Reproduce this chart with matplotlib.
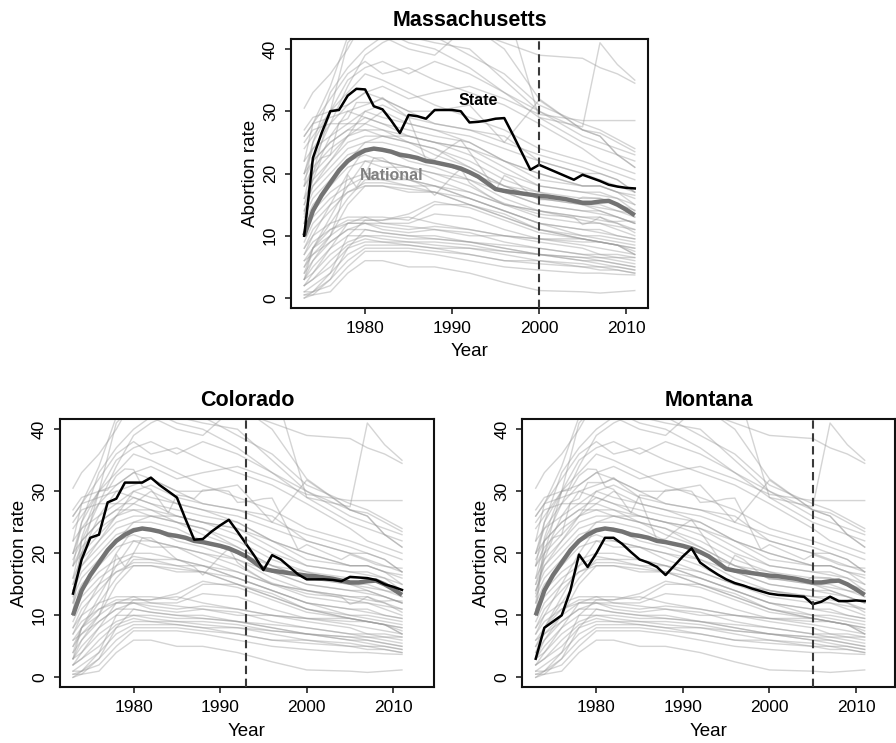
import matplotlib
matplotlib.use("Agg")
import matplotlib.pyplot as plt

plt.rcParams['font.family'] = ['Liberation Sans', 'DejaVu Sans']

# ---------------- data ----------------
years = list(range(1973, 2012))

national = [10, 14, 16.5, 18.5, 20.5, 22, 23, 23.7, 24, 23.8, 23.5, 23, 22.8, 22.5,
            22, 21.8, 21.5, 21.2, 20.8, 20.2, 19.5, 18.5, 17.5, 17.2, 17, 16.8, 16.6,
            16.4, 16.3, 16.1, 15.9, 15.6, 15.3, 15.3, 15.5, 15.6, 15, 14.2, 13.3]

massachusetts = [10, 22.5, 26.5, 30, 30.2, 32.5, 33.6, 33.5, 30.8, 30.3, 28.5, 26.5, 29.4,
                 29.2, 28.8, 30.2, 30.2, 30.2, 30, 28.2, 28.3, 28.5, 28.8, 28.9, 26.2, 23.4,
                 20.6, 21.4, 20.8, 20.2, 19.6, 19.0, 19.8, 19.3, 18.8, 18.2, 17.9, 17.7, 17.6]

colorado = [13.5, 19, 22.5, 23, 28.2, 28.8, 31.4, 31.4, 31.4, 32.2, 31, 30, 29, 25.5,
            22.2, 22.3, 23.5, 24.5, 25.4, 23.5, 21.5, 19.5, 17.3, 19.7, 19, 17.8, 16.6,
            15.8, 15.8, 15.8, 15.7, 15.5, 16.2, 16.1, 16, 15.7, 15, 14.6, 14.1]

montana = [3, 8, 9, 10, 14, 19.8, 17.8, 20, 22.5, 22.5, 21.5, 20.2, 19, 18.5, 17.8,
           16.5, 18, 19.5, 20.8, 18.5, 17.5, 16.6, 15.8, 15.2, 14.8, 14.3, 13.9, 13.5,
           13.3, 13.2, 13.1, 13, 11.8, 12.2, 13, 12.3, 12.3, 12.4, 12.3]

# background: all other states, values read at selected years
years_bg = [1973, 1974, 1976, 1978, 1980, 1982, 1985, 1988, 1992, 1996, 2000, 2005, 2007, 2009, 2011]

bg_high = [
    [30.5, 33, 36, 40, 45, 47, 46, 45, 43, 41, 39, 38.5, 37, 36, 34.5],
    [45, 60, 70, 80, 90, 90, 85, 80, 70, 48, 29, 27.5, 41, 37.5, 35],
    [22, 28, 34, 42, 45, 44, 42, 41, 40, 35, 30, 27, 26.5, 25, 23.5],
    [18, 25, 33, 37, 40, 42, 40, 39, 44, 40, 32, 27, 26, 23, 21],
    [26, 28, 32, 36, 38, 36, 37, 35, 33, 31, 28, 24, 22, 21, 20],
    [12, 20, 30, 41, 44, 43, 41, 40, 37, 33, 29, 25, 24, 23, 22],
    [24, 26, 30, 33, 36, 35, 33, 31, 29, 27, 24, 22, 21, 20, 19],
    [20, 24, 28, 31, 33, 34, 32, 33, 34, 32, 29.5, 28.5, 28.5, 28.5, 28.5],
    [15, 20, 26, 30, 31, 32, 30, 30, 31, 25, 31.8, 27, 26, 23, 21],
    [20, 25, 30, 35, 37, 38, 36, 38, 36, 33, 30, 26, 25, 24, 23],
    [16, 22, 28, 34, 39, 41, 43, 42, 39, 36, 31, 28, 27, 25.5, 24],
]

bg_mid = [
    [27, 29, 30, 31, 33, 32, 30, 28, 27, 26, 22, 20, 19, 18, 17],
    [26, 28, 29, 30, 29, 28, 27, 26, 25, 22, 20, 18, 18, 17, 16.5],
    [25, 27, 28, 28, 30, 29, 28, 27, 25, 22, 19, 18, 18, 17, 15],
    [22, 24, 26, 28, 28, 27, 26, 25, 23, 20, 18, 17, 17, 16, 15],
    [20, 22, 25, 27, 29, 28, 26, 25, 24, 21, 18, 17, 16.5, 16, 14],
    [19, 22, 25, 27, 27, 26, 25, 24, 22, 19, 17, 16, 16, 15, 13],
    [18, 21, 24, 26, 27, 27, 25, 24, 21, 18, 17, 15, 15, 14, 13],
    [16, 19, 22, 25, 26, 26, 25, 23, 21, 18, 16, 15, 14, 13, 12],
    [15, 18, 21, 24, 25, 25, 24, 22, 20, 17, 15, 14, 14, 13, 12],
    [14, 17, 20, 23, 24, 24, 22, 21, 19, 16, 14, 13, 13, 12, 11],
    [13, 16, 19, 22, 23, 22, 21, 20, 18, 15, 14, 13, 12.5, 12, 10.5],
    [12, 15, 18, 21, 22, 21, 21, 19, 17, 15, 13, 12, 12, 11, 10],
    [18, 20, 23, 26, 28, 30, 28, 27, 26, 24, 22, 20, 20, 19, 17],
    [14, 18, 22, 26, 30, 31, 29, 28, 27, 25, 23, 21, 20, 19, 17],
    [10, 14, 18, 22, 25, 26, 26, 25, 24, 22, 20, 18, 18, 17, 16],
    [7, 10, 15, 20, 24, 24, 23, 22, 20, 18, 16, 15, 14.5, 14, 13.5],
    [5, 8, 13, 18, 22, 22, 21, 20, 19, 17, 15, 14, 13.5, 13, 12],
]

bg_low = [
    [11, 14, 17, 19, 20, 20, 19, 18, 16, 14, 12, 11, 11, 10, 9.5],
    [10, 13, 16, 18, 19.5, 19, 19, 18, 16, 14, 12, 10, 10, 9.5, 9],
    [9, 12, 15, 17, 18.5, 18.5, 18, 17, 15, 13, 11, 10, 9.5, 9, 8.5],
    [8, 11, 14, 17, 18, 18, 17.5, 17, 15, 13, 11, 9.5, 9, 8.5, 8],
    [4, 8, 12, 16, 19, 19, 18, 18, 17, 15, 14, 12.5, 12, 11.5, 11],
    [3, 6, 10, 15, 18, 18, 17, 17, 16, 14, 12, 11, 10.5, 10, 9.5],
    [8, 10, 12, 13, 13, 13, 12.5, 15, 15, 13.5, 11, 9.5, 9, 8.5, 7.5],
    [7, 9, 11, 12.5, 12.5, 12.5, 13.5, 15.5, 14.5, 12.5, 10.5, 9.5, 9, 8.5, 7],
    [6, 8, 11, 12, 13, 12, 12, 13.5, 13, 11, 9.5, 8.5, 8, 7.5, 7],
    [6, 7, 10, 12, 12, 11.5, 11, 11.5, 11, 10, 9, 8, 7, 7, 6.5],
    [5, 7, 9, 11, 12, 11, 10.5, 11, 10.5, 9, 8, 7, 7, 6.5, 6],
    [0, 1, 4, 10, 12.5, 12.5, 13, 12, 11, 10, 9.5, 9, 9, 8.5, 7],
    [2, 4, 8, 12, 12, 12, 11.5, 11, 10, 10, 9.5, 9.5, 9, 8.5, 8],
    [4, 6, 9, 11, 11, 10.5, 10, 10, 9, 8.5, 8, 7, 6.5, 6, 5.5],
    [3, 5, 8, 10, 10, 10, 9.5, 9.5, 9, 8, 7, 6.5, 6, 5.5, 5],
    [3, 4, 7, 9, 10, 9.5, 9, 9, 8.5, 7.5, 7, 6, 6, 5.5, 5],
    [2, 3, 6, 8.5, 9.5, 9, 9, 8.5, 8, 7.5, 7, 6, 5.5, 5, 4.5],
    [2, 3, 5, 8, 9, 9, 8.5, 8, 8, 7, 6, 5.5, 5, 5, 4.5],
    [1, 2, 4, 7, 8.5, 8.5, 8.5, 8, 7, 6, 6, 5, 5, 4.5, 4],
    [1, 1, 3, 6, 8, 8, 8, 7.5, 7, 6, 5.5, 5, 4.5, 4.5, 4],
    [0.5, 1, 2, 5, 7.5, 7.5, 7.5, 7, 6, 5, 4.5, 4, 4, 3.8, 3.7],
    [0.5, 0.5, 1, 4, 6, 6, 5, 5, 4, 2.5, 1.2, 1, 0.8, 1, 1.2],
    [0, 0.5, 3, 8, 11, 10.5, 10, 9.5, 9, 8, 7, 6.5, 6.5, 6.5, 6.5],
]

panels = [
    ("Massachusetts", massachusetts, 2000),
    ("Colorado", colorado, 1993),
    ("Montana", montana, 2005),
]
x_ticks = [1980, 1990, 2000, 2010]
y_ticks = [0, 10, 20, 30, 40]

# ---------------- layout ----------------
W, H = 896, 743
fig = plt.figure(figsize=(W / 100, H / 100), dpi=100)

def box(l, r, t, b):
    return [l / W, 1 - b / H, (r - l) / W, (b - t) / H]

positions = [box(291, 648, 39, 308), box(60, 434, 419.3, 687.3), box(522.3, 895, 419.3, 687.3)]
xlims = [(1971.48, 2012.52), (1971.5, 2014.7), (1971.45, 2014.5)]

bg_color = '#9a9a9a'
for (name, state, cutoff), pos, xl in zip(panels, positions, xlims):
    ax = fig.add_axes(pos)
    for group in (bg_high, bg_mid, bg_low):
        for series in group:
            ax.plot(years_bg, series, color=bg_color, lw=1.0, alpha=0.42, zorder=1)
    for other in (massachusetts, colorado, montana):
        ax.plot(years, other, color=bg_color, lw=1.0, alpha=0.42, zorder=1)
    ax.plot(years, national, color='#737373', lw=3.2, zorder=3, solid_capstyle='butt')
    ax.plot(years, state, color='black', lw=1.8, zorder=4)
    ax.axvline(cutoff, color='#3a3a3a', lw=1.5, dashes=(4, 2.2), zorder=5)

    ax.set_xlim(*xl)
    ax.set_ylim(-1.6, 41.6)
    ax.set_xticks(x_ticks)
    ax.set_yticks(y_ticks)
    ax.tick_params(axis='both', direction='out', length=4.3, width=1.1,
                   labelsize=12.5, pad=5, color='#111111')
    plt.setp(ax.get_yticklabels(), rotation=90, va='center')
    for sp in ax.spines.values():
        sp.set_linewidth(1.5)
        sp.set_color('#111111')

    ax.set_title(name, fontsize=15.5, fontweight='bold', pad=9.5)
    ax.set_xlabel('Year', fontsize=13.5)
    ax.set_ylabel('Abortion rate', fontsize=13.5)
    wpx = (pos[2]) * W
    hpx = (pos[3]) * H
    ax.yaxis.set_label_coords(-32 / wpx, 0.5)
    ax.xaxis.set_label_coords(0.5, -35.4 / hpx)

    if name == "Massachusetts":
        ax.text(1993.0, 31.8, 'State', ha='center', va='center',
                fontsize=11.5, fontweight='bold', color='black', zorder=6)
        ax.text(1983.1, 19.65, 'National', ha='center', va='center',
                fontsize=11.5, fontweight='bold', color='#808080', zorder=6)

fig.savefig('out.png', dpi=100)
